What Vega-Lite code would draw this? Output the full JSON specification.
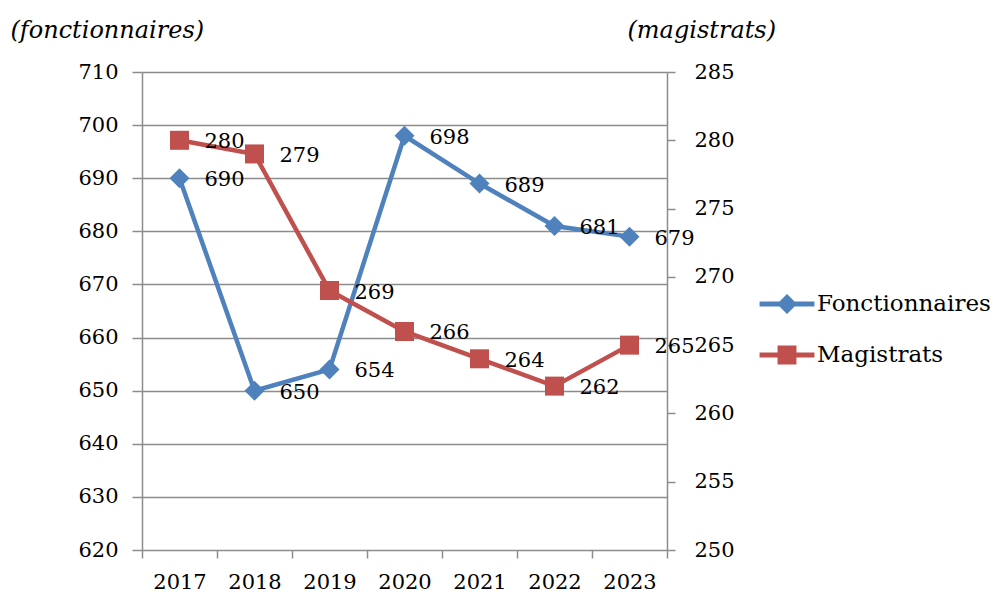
{
  "$schema": "https://vega.github.io/schema/vega-lite/v6.json",
  "width": 525,
  "height": 478,
  "autosize": {"type": "none"},
  "padding": {"left": 142, "top": 72, "right": 327, "bottom": 45},
  "background": "white",
  "config": {
    "view": {"stroke": null},
    "font": "DejaVu Serif",
    "axis": {
      "labelFont": "DejaVu Serif",
      "labelFontSize": 21,
      "labelColor": "black",
      "domainColor": "#8c8c8c",
      "domainWidth": 1.5,
      "tickColor": "#8c8c8c",
      "tickWidth": 1.5,
      "gridColor": "#8c8c8c",
      "gridWidth": 1.5,
      "gridOpacity": 1,
      "titleFont": "DejaVu Serif",
      "titleFontStyle": "italic",
      "titleFontWeight": "normal",
      "titleFontSize": 24,
      "titleColor": "black"
    }
  },
  "data": {
    "values": [
      {"year": "2017", "series": "Fonctionnaires", "value": 690},
      {"year": "2018", "series": "Fonctionnaires", "value": 650},
      {"year": "2019", "series": "Fonctionnaires", "value": 654},
      {"year": "2020", "series": "Fonctionnaires", "value": 698},
      {"year": "2021", "series": "Fonctionnaires", "value": 689},
      {"year": "2022", "series": "Fonctionnaires", "value": 681},
      {"year": "2023", "series": "Fonctionnaires", "value": 679},
      {"year": "2017", "series": "Magistrats", "value": 280},
      {"year": "2018", "series": "Magistrats", "value": 279},
      {"year": "2019", "series": "Magistrats", "value": 269},
      {"year": "2020", "series": "Magistrats", "value": 266},
      {"year": "2021", "series": "Magistrats", "value": 264},
      {"year": "2022", "series": "Magistrats", "value": 262},
      {"year": "2023", "series": "Magistrats", "value": 265}
    ]
  },
  "encoding": {
    "x": {
      "field": "year",
      "type": "ordinal",
      "scale": {"type": "band", "paddingInner": 0, "paddingOuter": 0},
      "axis": {
        "title": null,
        "labelAngle": 0,
        "domain": false,
        "grid": false,
        "tickBand": "extent",
        "tickSize": 8,
        "labelPadding": 13
      }
    }
  },
  "layer": [
    {
      "transform": [{"filter": "datum.series === 'Fonctionnaires'"}],
      "encoding": {
        "y": {
          "field": "value",
          "type": "quantitative",
          "scale": {"domain": [620, 710], "nice": false, "zero": false},
          "axis": {
            "orient": "left",
            "values": [620, 630, 640, 650, 660, 670, 680, 690, 700, 710],
            "grid": true,
            "tickSize": 10,
            "labelPadding": 14,
            "title": "(fonctionnaires)",
            "titleAngle": 0,
            "titleAlign": "left",
            "titleBaseline": "middle",
            "titleX": -132,
            "titleY": -42
          }
        }
      },
      "layer": [
        {
          "mark": {"type": "line", "strokeWidth": 4.5},
          "encoding": {
            "color": {
              "field": "series",
              "type": "nominal",
              "scale": {"domain": ["Fonctionnaires", "Magistrats"], "range": ["#4F81BD", "#C0504D"]},
              "legend": {
                "orient": "none",
                "legendX": 630,
                "legendY": 217,
                "title": null,
                "symbolSize": 900,
                "labelFont": "DejaVu Serif",
                "labelFontSize": 23,
                "labelColor": "black",
                "labelLimit": 400,
                "labelOffset": 15,
                "rowPadding": 24,
                "encode": {
                  "symbols": {
                    "update": {
                      "shape": {"signal": "datum.value === 'Fonctionnaires' ? 'M-1.83,-0.16H1.83V0.16H-1.83Z M0,-0.67L0.67,0L0,0.67L-0.67,0Z' : 'M-1.83,-0.16H1.83V0.16H-1.83Z M-0.63,-0.63H0.63V0.63H-0.63Z'"},
                      "fill": {"signal": "datum.value === 'Fonctionnaires' ? '#4F81BD' : '#C0504D'"},
                      "fillOpacity": {"value": 1},
                      "strokeWidth": {"value": 0}
                    }
                  }
                }
              }
            }
          }
        },
        {
          "mark": {"type": "point", "shape": "diamond", "filled": true, "size": 400, "opacity": 1, "color": "#4F81BD"}
        },
        {
          "mark": {"type": "text", "align": "left", "baseline": "middle", "dx": 25, "dy": 2, "fontSize": 21, "font": "DejaVu Serif", "color": "black"},
          "encoding": {"text": {"field": "value", "type": "quantitative"}}
        }
      ]
    },
    {
      "transform": [{"filter": "datum.series === 'Magistrats'"}],
      "encoding": {
        "y": {
          "field": "value",
          "type": "quantitative",
          "scale": {"domain": [250, 285], "nice": false, "zero": false},
          "axis": {
            "orient": "right",
            "values": [250, 255, 260, 265, 270, 275, 280, 285],
            "grid": false,
            "tickSize": 8,
            "labelPadding": 19,
            "title": "(magistrats)",
            "titleAngle": 0,
            "titleAlign": "left",
            "titleBaseline": "middle",
            "titleX": -40,
            "titleY": -42
          }
        }
      },
      "layer": [
        {
          "mark": {"type": "line", "strokeWidth": 4.5},
          "encoding": {
            "color": {
              "field": "series",
              "type": "nominal",
              "scale": {"domain": ["Fonctionnaires", "Magistrats"], "range": ["#4F81BD", "#C0504D"]},
              "legend": {
                "orient": "none",
                "legendX": 630,
                "legendY": 217,
                "title": null,
                "symbolSize": 900,
                "labelFont": "DejaVu Serif",
                "labelFontSize": 23,
                "labelColor": "black",
                "labelLimit": 400,
                "labelOffset": 15,
                "rowPadding": 24,
                "encode": {
                  "symbols": {
                    "update": {
                      "shape": {"signal": "datum.value === 'Fonctionnaires' ? 'M-1.83,-0.16H1.83V0.16H-1.83Z M0,-0.67L0.67,0L0,0.67L-0.67,0Z' : 'M-1.83,-0.16H1.83V0.16H-1.83Z M-0.63,-0.63H0.63V0.63H-0.63Z'"},
                      "fill": {"signal": "datum.value === 'Fonctionnaires' ? '#4F81BD' : '#C0504D'"},
                      "fillOpacity": {"value": 1},
                      "strokeWidth": {"value": 0}
                    }
                  }
                }
              }
            }
          }
        },
        {
          "mark": {"type": "point", "shape": "square", "filled": true, "size": 361, "opacity": 1, "color": "#C0504D"}
        },
        {
          "mark": {"type": "text", "align": "left", "baseline": "middle", "dx": 25, "dy": 2, "fontSize": 21, "font": "DejaVu Serif", "color": "black"},
          "encoding": {"text": {"field": "value", "type": "quantitative"}}
        }
      ]
    }
  ],
  "resolve": {"scale": {"y": "independent"}}
}
